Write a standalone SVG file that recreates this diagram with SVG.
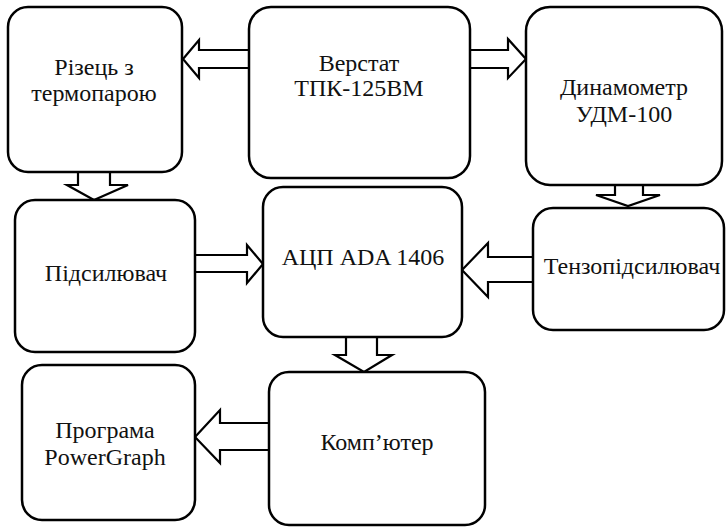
<svg xmlns="http://www.w3.org/2000/svg" width="726" height="528" viewBox="0 0 726 528">
<style>
.box{fill:#fff;stroke:#000;stroke-width:2.5}
.arr{fill:#fff;stroke:#000;stroke-width:2.2;stroke-linejoin:miter}
</style>
<rect width="726" height="528" fill="#fff"/>
<g id="connectors">
<path class="arr" d="M249,50 H199 V40 L183,59 L199,78 V68 H249"/>
<path class="arr" d="M470,50 H508 V39 L526,59 L508,78 V68 H470"/>
<path class="arr" d="M78,172 V185 H67 L94,200 L128,185 H110 V172"/>
<path class="arr" d="M195,255 H247 V245 L263,264 L247,283 V272 H195"/>
<path class="arr" d="M615,185 V195 H596 L628,206 L660,195 H643 V185"/>
<path class="arr" d="M533,257 H488 V243 L462,270 L488,297 V282 H533"/>
<path class="arr" d="M346,337 V355 H335 L364,372 L392,355 H377 V337"/>
<path class="arr" d="M269,423 H220 V410 L195,437 L220,463 V450 H269"/>
</g>
<g font-family="Liberation Serif" font-size="24" text-anchor="middle" fill="#111">
<g id="n1"><rect class="box" x="8" y="7" width="174" height="165" rx="20"/><text x="94" y="75">Різець з</text><text x="94" y="101">термопарою</text></g>
<g id="n2"><rect class="box" x="249" y="7" width="221" height="171" rx="22"/><text x="359" y="71">Верстат</text><text x="359" y="96">ТПК-125ВМ</text></g>
<g id="n3"><rect class="box" x="526" y="7" width="196" height="178" rx="24"/><text x="624" y="95">Динамометр</text><text x="624" y="122">УДМ-100</text></g>
<g id="n4"><rect class="box" x="15" y="200" width="180" height="152" rx="20"/><text x="106" y="281">Підсилювач</text></g>
<g id="n5"><rect class="box" x="263" y="187" width="199" height="150" rx="20"/><text x="363" y="265">АЦП ADA 1406</text></g>
<g id="n6"><rect class="box" x="533" y="208" width="191" height="122" rx="20"/><text x="632" y="274">Тензопідсилювач</text></g>
<g id="n7"><rect class="box" x="22" y="365" width="173" height="155" rx="20"/><text x="105" y="438">Програма</text><text x="105" y="465">PowerGraph</text></g>
<g id="n8"><rect class="box" x="269" y="372" width="216" height="153" rx="20"/><text x="377" y="450">Комп’ютер</text></g>
</g>
</svg>
